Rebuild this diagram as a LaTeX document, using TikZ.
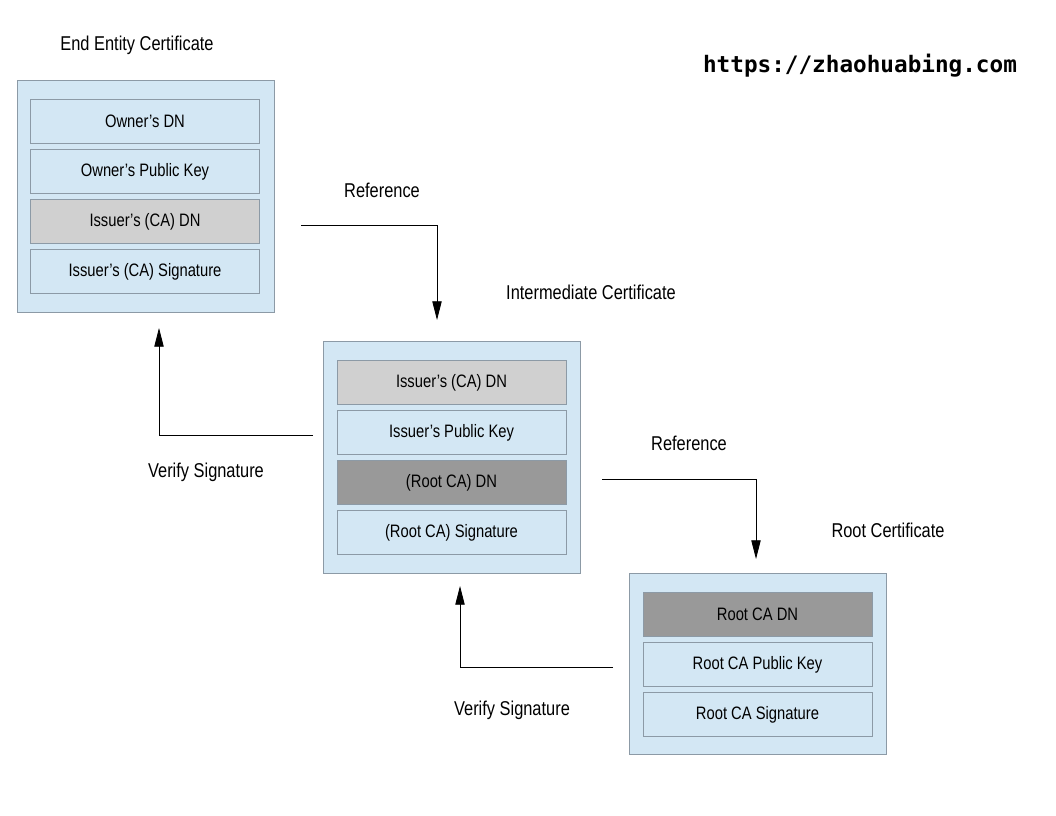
\documentclass[tikz,border=0pt]{standalone}
\usepackage{fontspec}
\setmainfont{Liberation Sans}[FakeStretch=0.82]
\newfontfamily\urlfont{DejaVu Sans Mono}
\usetikzlibrary{arrows.meta}
\definecolor{lb}{HTML}{D3E7F4}
\definecolor{bd}{HTML}{8C9AA6}
\definecolor{g1}{HTML}{D0D0D0}
\definecolor{g2}{HTML}{999999}
\begin{document}
\begin{tikzpicture}[x=0.75pt,y=-0.75pt,
  outer/.style={draw=bd,fill=lb,line width=0.6pt},
  field/.style={draw=bd,fill=lb,line width=0.6pt,minimum width=171.75pt,minimum height=32.5pt,inner sep=0pt,font=\fontsize{13.5}{15}\selectfont},
  lbl/.style={font=\fontsize{15}{17}\selectfont,inner sep=0pt},
  arr/.style={line width=0.6pt,-{Triangle[length=14pt,width=7pt]}}]
\useasboundingbox (0,0) rectangle (1056,816);
\fill[white] (0,0) rectangle (1056,816);
% End entity
\node[outer,minimum width=192.75pt,minimum height=174pt,inner sep=0pt] (ee) at (145.5,196) {};
\node[field] (ee1) at (145,121.5) {Owner's DN};
\node[field] (ee2) at (145,171.5) {Owner's Public Key};
\node[field,fill=g1] (ee3) at (145,221.5) {Issuer's (CA) DN};
\node[field] (ee4) at (145,271.5) {Issuer's (CA) Signature};
\node[lbl] (eet) at (137,45) {End Entity Certificate};
% Intermediate
\node[outer,minimum width=192.75pt,minimum height=174pt,inner sep=0pt] (im) at (451.5,457) {};
\node[field,fill=g1] (im1) at (451.5,382.5) {Issuer's (CA) DN};
\node[field] (im2) at (451.5,432.5) {Issuer's Public Key};
\node[field,fill=g2] (im3) at (451.5,482.5) {(Root CA) DN};
\node[field] (im4) at (451.5,532.5) {(Root CA) Signature};
\node[lbl] (imt) at (591,292) {Intermediate Certificate};
% Root
\node[outer,minimum width=192.75pt,minimum height=135.75pt,inner sep=0pt] (rt) at (757.5,663.5) {};
\node[field,fill=g2] (rt1) at (757.5,614.5) {Root CA DN};
\node[field] (rt2) at (757.5,664.5) {Root CA Public Key};
\node[field] (rt3) at (757.5,714.5) {Root CA Signature};
\node[lbl] (rtt) at (888,530) {Root Certificate};
% URL
\node[font=\urlfont\bfseries\fontsize{17}{19}\selectfont,inner sep=0pt] (url) at (860,66) {https://zhaohuabing.com};
% connectors
\coordinate (a1) at (301,225); \coordinate (a1e) at (437,320);
\draw[arr] (a1) -| (a1e);
\node[lbl] (r1) at (382,190) {Reference};
\coordinate (v1) at (313,435); \coordinate (v1e) at (159,328);
\draw[arr] (v1) -| (v1e);
\node[lbl] (vs1) at (206,472) {Verify Signature};
\coordinate (a2) at (602,479); \coordinate (a2e) at (756,559);
\draw[arr] (a2) -| (a2e);
\node[lbl] (r2) at (689,443) {Reference};
\coordinate (v2) at (613,667); \coordinate (v2e) at (460,586);
\draw[arr] (v2) -| (v2e);
\node[lbl] (vs2) at (512,710) {Verify Signature};
\end{tikzpicture}
\end{document}
